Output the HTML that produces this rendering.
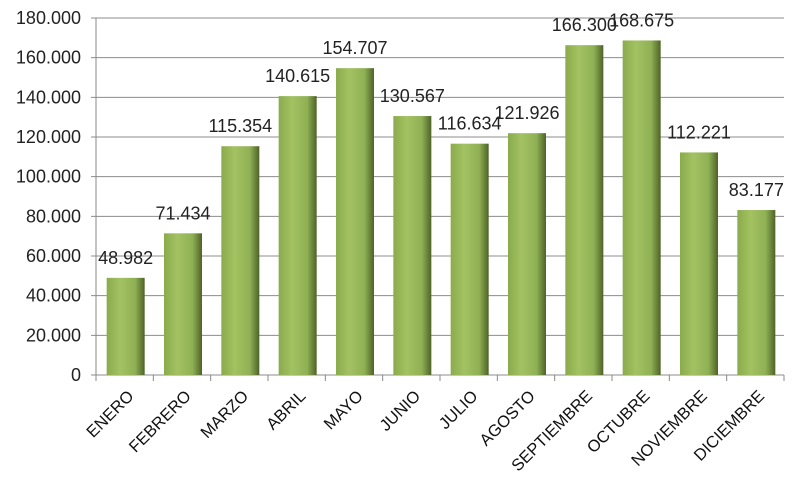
<!DOCTYPE html>
<html><head><meta charset="utf-8"><style>
body{margin:0;background:#fff;font-family:"Liberation Sans",sans-serif}
</style></head><body>
<svg width="800" height="490" xmlns="http://www.w3.org/2000/svg">
<defs><linearGradient id="g" x1="0" x2="1" y1="0" y2="0">
<stop offset="0" stop-color="#8aab4c"/><stop offset="0.35" stop-color="#a3c262"/><stop offset="0.75" stop-color="#8fb054"/><stop offset="1" stop-color="#4e6328"/></linearGradient></defs>
<g id="grid"></g><g id="bars"></g><g id="labels"></g>
</svg>
<script>
const categories=["ENERO","FEBRERO","MARZO","ABRIL","MAYO","JUNIO","JULIO","AGOSTO","SEPTIEMBRE","OCTUBRE","NOVIEMBRE","DICIEMBRE"];
const values=[48982,71434,115354,140615,154707,130567,116634,121926,166300,168675,112221,83177];
const valueLabels=["48.982","71.434","115.354","140.615","154.707","130.567","116.634","121.926","166.300","168.675","112.221","83.177"];
const yTicks=[0,20000,40000,60000,80000,100000,120000,140000,160000,180000];
const yTickLabels=["0","20.000","40.000","60.000","80.000","100.000","120.000","140.000","160.000","180.000"];
const NS="http://www.w3.org/2000/svg";
const x0=96,x1=784,yb=375,yt=18,ymax=180000;
const bw=(x1-x0)/categories.length;
const y=v=>yb-(v/ymax)*(yb-yt);
const xc=i=>x0+bw*(i+0.5);
function mk(t,a,p){const e=document.createElementNS(NS,t);for(const k in a)e.setAttribute(k,a[k]);document.getElementById(p).appendChild(e);return e;}
yTicks.forEach((v,i)=>{
 const l=mk('line',{x1:x0-5,x2:x1,y1:y(v),y2:y(v),stroke:'#8c8c8c','stroke-width':1},'grid');
 
 
 const t=mk('text',{x:x0-15,y:y(v)+6,'text-anchor':'end','font-size':18,fill:'#222'},'grid');
 t.textContent=yTickLabels[i];
 
 
});
const ax=mk('line',{x1:x0,x2:x0,y1:yt,y2:yb+5,stroke:'#888'},'grid');


for(let i=0;i<=categories.length;i++){
 const tk=mk('line',{x1:x0+bw*i,x2:x0+bw*i,y1:yb,y2:yb+6,stroke:'#888'},'grid');
 
 
}
categories.forEach((c,i)=>{
 const w=38,x=xc(i)-w/2+1;
 const r=mk('rect',{x:x,y:y(values[i]),width:w,height:yb-y(values[i]),fill:'url(#g)'},'bars');
 
 
 const t=mk('text',{x:xc(i)+1,y:y(values[i])-14,'text-anchor':'middle','font-size':18,fill:'#222'},'labels');
 t.textContent=valueLabels[i];
 
 
 const cl=mk('text',{x:xc(i)+10,y:yb+22,'text-anchor':'end','font-size':16.5,fill:'#111',transform:`rotate(-45 ${xc(i)+10} ${yb+22})`},'labels');
 cl.textContent=c;
 
 
});
</script>
</body></html>
